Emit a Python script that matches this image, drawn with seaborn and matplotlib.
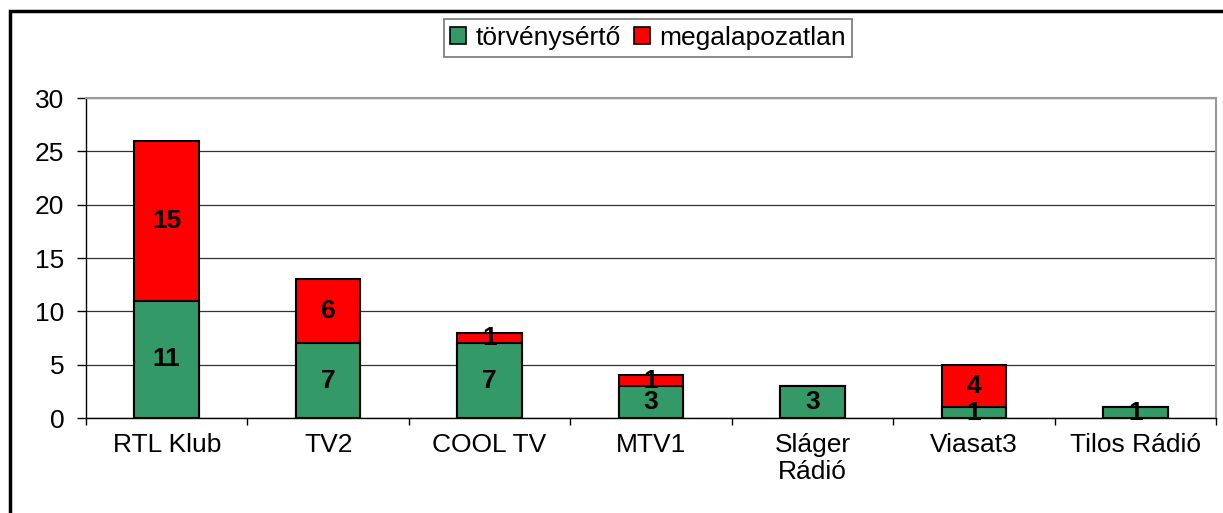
import matplotlib
matplotlib.use("Agg")
import matplotlib.pyplot as plt
import seaborn as sns
import pandas as pd
from matplotlib.patches import Rectangle, Patch

categories = ["RTL Klub", "TV2", "COOL TV", "MTV1", "Sláger\nRádió", "Viasat3", "Tilos Rádió"]
torvenyserto = [11, 7, 7, 3, 3, 1, 1]
megalapozatlan = [15, 6, 1, 1, 0, 4, 0]
yticks = [0, 5, 10, 15, 20, 25, 30]

sns.set_theme(style="white")
plt.rcParams['font.family'] = ['Liberation Sans', 'DejaVu Sans']
plt.rcParams['text.color'] = 'black'
plt.rcParams['xtick.color'] = 'black'
plt.rcParams['ytick.color'] = 'black'
plt.rcParams['xtick.labelcolor'] = 'black'
plt.rcParams['ytick.labelcolor'] = 'black'

df = pd.DataFrame({
    "cat": categories,
    "torv": torvenyserto,
    "meg": megalapozatlan,
})
df["total"] = df["torv"] + df["meg"]

fig = plt.figure(figsize=(12.23, 5.13), dpi=100)
ax = fig.add_axes([86/1223, 1 - 418/513, (1216 - 86)/1223, (418 - 98)/513])

green = "#339966"
red = "#FF0000"

sns.barplot(data=df, x="cat", y="total", color=red, width=0.4, ax=ax,
            edgecolor="black", linewidth=1.5, saturation=1, zorder=3)
sns.barplot(data=df, x="cat", y="torv", color=green, width=0.4, ax=ax,
            edgecolor="black", linewidth=1.5, saturation=1, zorder=4)

fs = 19
for i, (g, r) in enumerate(zip(torvenyserto, megalapozatlan)):
    if g > 0:
        ax.text(i, g / 2, str(g), ha="center", va="center", fontsize=fs,
                fontweight="bold", color="black", zorder=6)
    if r > 0:
        ax.text(i, g + r / 2, str(r), ha="center", va="center", fontsize=fs,
                fontweight="bold", color="black", zorder=6)

ax.set_xlim(-0.5, len(categories) - 0.5)
ax.set_ylim(0, 30)
ax.set_yticks(yticks)
ax.set_yticklabels([str(v) for v in yticks], fontsize=fs, color="black")
ax.set_xticks(range(len(categories)))
ax.set_xticklabels(categories, fontsize=fs, linespacing=1.15, color="black")
ax.set_xticks([i - 0.5 for i in range(len(categories) + 1)], minor=True)
ax.tick_params(axis="x", which="major", length=0, pad=11)
ax.tick_params(axis="x", which="minor", length=5, width=1, color="black", direction="out", bottom=True)
ax.tick_params(axis="y", length=6.5, width=1, color="black", direction="out", left=True, pad=9)
ax.set_xlabel("")
ax.set_ylabel("")

ax.yaxis.grid(True, color="#333333", linewidth=0.9, zorder=0)
ax.xaxis.grid(False)
ax.set_axisbelow(True)

for side in ["left", "bottom"]:
    ax.spines[side].set_color("black")
    ax.spines[side].set_linewidth(1)
for side in ["top", "right"]:
    ax.spines[side].set_color("#999999")
    ax.spines[side].set_linewidth(1.5)

handles = [Patch(facecolor=green, edgecolor="black", linewidth=1.2, label="törvénysértő"),
           Patch(facecolor=red, edgecolor="black", linewidth=1.2, label="megalapozatlan")]
leg = fig.legend(handles=handles, loc="center", bbox_to_anchor=(648/1223, 1 - 38/513),
                 ncol=2, frameon=True, fontsize=fs, handlelength=0.6, handleheight=0.6,
                 handletextpad=0.35, columnspacing=0.5, borderpad=0.25, borderaxespad=0,
                 fancybox=False, labelcolor="black")
leg.get_frame().set_edgecolor("#555555")
leg.get_frame().set_linewidth(1.2)

# outer chart frame (cut off at right and bottom)
fig.patches.append(Rectangle((10/1223, -0.1), 1.2, 1 - 11/513 + 0.1, transform=fig.transFigure,
                             fill=False, edgecolor="black", linewidth=2.5, zorder=10))

fig.savefig("out.png", dpi=100)
